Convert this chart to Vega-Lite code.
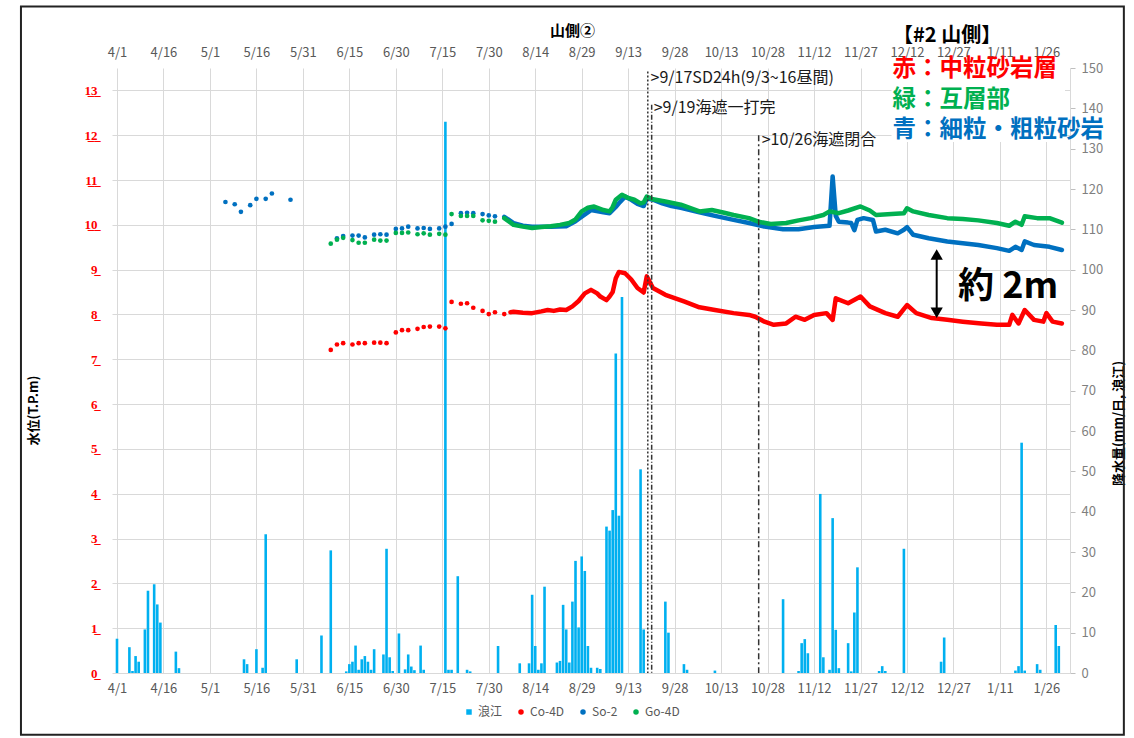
{
"$schema":"https://vega.github.io/schema/vega-lite/v6.json",
"width":958,"height":605,
"autosize":{"type":"none"},
"padding":{"left":112,"top":68,"right":64,"bottom":65},
"background":"#ffffff",
"config":{"font":"Noto Sans CJK JP","view":{"stroke":null}},
"datasets":{
"rain":[
{"d":"2023/04/01","v":8.5,"s":"浪江"},{"d":"2023/04/05","v":6.4,"s":"浪江"},{"d":"2023/04/06","v":0.5,"s":"浪江"},{"d":"2023/04/07","v":4.2,"s":"浪江"},{"d":"2023/04/08","v":2.8,"s":"浪江"},{"d":"2023/04/10","v":10.8,"s":"浪江"},{"d":"2023/04/11","v":20.4,"s":"浪江"},{"d":"2023/04/13","v":22.0,"s":"浪江"},{"d":"2023/04/14","v":17.0,"s":"浪江"},{"d":"2023/04/15","v":12.5,"s":"浪江"},{"d":"2023/04/20","v":5.3,"s":"浪江"},{"d":"2023/04/21","v":1.2,"s":"浪江"},
{"d":"2023/05/12","v":3.4,"s":"浪江"},{"d":"2023/05/13","v":2.2,"s":"浪江"},{"d":"2023/05/16","v":5.9,"s":"浪江"},{"d":"2023/05/18","v":1.3,"s":"浪江"},{"d":"2023/05/19","v":34.4,"s":"浪江"},{"d":"2023/05/29","v":3.4,"s":"浪江"},
{"d":"2023/06/06","v":9.3,"s":"浪江"},{"d":"2023/06/09","v":30.4,"s":"浪江"},{"d":"2023/06/14","v":0.4,"s":"浪江"},{"d":"2023/06/15","v":2.2,"s":"浪江"},{"d":"2023/06/16","v":2.8,"s":"浪江"},{"d":"2023/06/17","v":6.8,"s":"浪江"},{"d":"2023/06/18","v":0.8,"s":"浪江"},{"d":"2023/06/19","v":3.4,"s":"浪江"},{"d":"2023/06/20","v":4.2,"s":"浪江"},{"d":"2023/06/21","v":2.8,"s":"浪江"},{"d":"2023/06/22","v":0.8,"s":"浪江"},{"d":"2023/06/23","v":5.9,"s":"浪江"},{"d":"2023/06/26","v":4.6,"s":"浪江"},{"d":"2023/06/27","v":30.8,"s":"浪江"},{"d":"2023/06/28","v":3.9,"s":"浪江"},{"d":"2023/06/29","v":0.5,"s":"浪江"},
{"d":"2023/07/01","v":9.8,"s":"浪江"},{"d":"2023/07/03","v":0.9,"s":"浪江"},{"d":"2023/07/04","v":4.6,"s":"浪江"},{"d":"2023/07/05","v":1.6,"s":"浪江"},{"d":"2023/07/06","v":0.7,"s":"浪江"},{"d":"2023/07/08","v":6.8,"s":"浪江"},{"d":"2023/07/09","v":0.8,"s":"浪江"},{"d":"2023/07/16","v":136.7,"s":"浪江"},{"d":"2023/07/17","v":0.8,"s":"浪江"},{"d":"2023/07/18","v":0.8,"s":"浪江"},{"d":"2023/07/20","v":24.0,"s":"浪江"},{"d":"2023/07/23","v":0.8,"s":"浪江"},{"d":"2023/07/24","v":0.4,"s":"浪江"},
{"d":"2023/08/02","v":6.7,"s":"浪江"},{"d":"2023/08/09","v":2.4,"s":"浪江"},{"d":"2023/08/12","v":2.4,"s":"浪江"},{"d":"2023/08/13","v":19.4,"s":"浪江"},{"d":"2023/08/14","v":6.7,"s":"浪江"},{"d":"2023/08/15","v":0.8,"s":"浪江"},{"d":"2023/08/16","v":2.4,"s":"浪江"},{"d":"2023/08/17","v":21.4,"s":"浪江"},{"d":"2023/08/21","v":2.6,"s":"浪江"},{"d":"2023/08/22","v":3.0,"s":"浪江"},{"d":"2023/08/23","v":16.9,"s":"浪江"},{"d":"2023/08/24","v":10.8,"s":"浪江"},{"d":"2023/08/25","v":2.6,"s":"浪江"},{"d":"2023/08/26","v":17.7,"s":"浪江"},{"d":"2023/08/27","v":27.8,"s":"浪江"},{"d":"2023/08/28","v":11.3,"s":"浪江"},{"d":"2023/08/29","v":28.9,"s":"浪江"},{"d":"2023/08/30","v":25.3,"s":"浪江"},{"d":"2023/08/31","v":6.7,"s":"浪江"},
{"d":"2023/09/01","v":1.3,"s":"浪江"},{"d":"2023/09/03","v":1.3,"s":"浪江"},{"d":"2023/09/04","v":1.0,"s":"浪江"},{"d":"2023/09/06","v":36.3,"s":"浪江"},{"d":"2023/09/07","v":35.3,"s":"浪江"},{"d":"2023/09/08","v":40.4,"s":"浪江"},{"d":"2023/09/09","v":79.2,"s":"浪江"},{"d":"2023/09/10","v":39.0,"s":"浪江"},{"d":"2023/09/11","v":93.2,"s":"浪江"},{"d":"2023/09/17","v":50.5,"s":"浪江"},{"d":"2023/09/18","v":10.8,"s":"浪江"},{"d":"2023/09/25","v":17.7,"s":"浪江"},{"d":"2023/09/26","v":10.0,"s":"浪江"},
{"d":"2023/10/01","v":2.2,"s":"浪江"},{"d":"2023/10/02","v":0.8,"s":"浪江"},{"d":"2023/10/11","v":0.6,"s":"浪江"},
{"d":"2023/11/02","v":18.3,"s":"浪江"},{"d":"2023/11/07","v":0.5,"s":"浪江"},{"d":"2023/11/08","v":7.4,"s":"浪江"},{"d":"2023/11/09","v":8.4,"s":"浪江"},{"d":"2023/11/10","v":4.9,"s":"浪江"},{"d":"2023/11/14","v":44.4,"s":"浪江"},{"d":"2023/11/15","v":3.9,"s":"浪江"},{"d":"2023/11/17","v":0.8,"s":"浪江"},{"d":"2023/11/18","v":38.4,"s":"浪江"},{"d":"2023/11/19","v":10.7,"s":"浪江"},{"d":"2023/11/20","v":1.2,"s":"浪江"},{"d":"2023/11/23","v":7.4,"s":"浪江"},{"d":"2023/11/24","v":0.4,"s":"浪江"},{"d":"2023/11/25","v":15.0,"s":"浪江"},{"d":"2023/11/26","v":26.2,"s":"浪江"},
{"d":"2023/12/03","v":0.5,"s":"浪江"},{"d":"2023/12/04","v":1.7,"s":"浪江"},{"d":"2023/12/05","v":0.5,"s":"浪江"},{"d":"2023/12/11","v":30.8,"s":"浪江"},{"d":"2023/12/23","v":2.8,"s":"浪江"},{"d":"2023/12/24","v":8.8,"s":"浪江"},
{"d":"2024/01/16","v":0.6,"s":"浪江"},{"d":"2024/01/17","v":1.7,"s":"浪江"},{"d":"2024/01/18","v":57.1,"s":"浪江"},{"d":"2024/01/19","v":0.6,"s":"浪江"},{"d":"2024/01/23","v":2.2,"s":"浪江"},{"d":"2024/01/24","v":0.8,"s":"浪江"},{"d":"2024/01/29","v":11.9,"s":"浪江"},{"d":"2024/01/30","v":6.7,"s":"浪江"}
],
"pts":[
{"s":"So-2","d":"2023/05/06","v":10.51},{"s":"So-2","d":"2023/05/09","v":10.46},{"s":"So-2","d":"2023/05/11","v":10.29},{"s":"So-2","d":"2023/05/14","v":10.44},{"s":"So-2","d":"2023/05/16","v":10.58},{"s":"So-2","d":"2023/05/19","v":10.58},{"s":"So-2","d":"2023/05/21","v":10.70},{"s":"So-2","d":"2023/05/27","v":10.56},
{"s":"So-2","d":"2023/06/11","v":9.70},{"s":"So-2","d":"2023/06/13","v":9.75},{"s":"So-2","d":"2023/06/16","v":9.76},{"s":"So-2","d":"2023/06/18","v":9.76},{"s":"So-2","d":"2023/06/20","v":9.72},{"s":"So-2","d":"2023/06/23","v":9.78},{"s":"So-2","d":"2023/06/25","v":9.79},{"s":"So-2","d":"2023/06/27","v":9.78},{"s":"So-2","d":"2023/06/30","v":9.91},{"s":"So-2","d":"2023/07/02","v":9.92},{"s":"So-2","d":"2023/07/04","v":9.96},{"s":"So-2","d":"2023/07/07","v":9.92},{"s":"So-2","d":"2023/07/09","v":9.93},{"s":"So-2","d":"2023/07/11","v":9.91},{"s":"So-2","d":"2023/07/14","v":9.92},{"s":"So-2","d":"2023/07/16","v":9.96},{"s":"So-2","d":"2023/07/18","v":10.02},{"s":"So-2","d":"2023/07/21","v":10.26},{"s":"So-2","d":"2023/07/23","v":10.27},{"s":"So-2","d":"2023/07/25","v":10.26},{"s":"So-2","d":"2023/07/28","v":10.24},{"s":"So-2","d":"2023/07/30","v":10.21},{"s":"So-2","d":"2023/08/01","v":10.19},
{"s":"Go-4D","d":"2023/06/09","v":9.58},{"s":"Go-4D","d":"2023/06/11","v":9.67},{"s":"Go-4D","d":"2023/06/13","v":9.71},{"s":"Go-4D","d":"2023/06/16","v":9.66},{"s":"Go-4D","d":"2023/06/18","v":9.60},{"s":"Go-4D","d":"2023/06/20","v":9.60},{"s":"Go-4D","d":"2023/06/23","v":9.67},{"s":"Go-4D","d":"2023/06/25","v":9.65},{"s":"Go-4D","d":"2023/06/27","v":9.65},{"s":"Go-4D","d":"2023/06/30","v":9.82},{"s":"Go-4D","d":"2023/07/02","v":9.82},{"s":"Go-4D","d":"2023/07/04","v":9.83},{"s":"Go-4D","d":"2023/07/07","v":9.79},{"s":"Go-4D","d":"2023/07/09","v":9.81},{"s":"Go-4D","d":"2023/07/11","v":9.78},{"s":"Go-4D","d":"2023/07/14","v":9.80},{"s":"Go-4D","d":"2023/07/16","v":9.78},{"s":"Go-4D","d":"2023/07/18","v":10.24},{"s":"Go-4D","d":"2023/07/21","v":10.20},{"s":"Go-4D","d":"2023/07/23","v":10.20},{"s":"Go-4D","d":"2023/07/25","v":10.20},{"s":"Go-4D","d":"2023/07/28","v":10.10},{"s":"Go-4D","d":"2023/07/30","v":10.09},{"s":"Go-4D","d":"2023/08/01","v":10.07},
{"s":"Co-4D","d":"2023/06/09","v":7.21},{"s":"Co-4D","d":"2023/06/11","v":7.33},{"s":"Co-4D","d":"2023/06/13","v":7.36},{"s":"Co-4D","d":"2023/06/16","v":7.33},{"s":"Co-4D","d":"2023/06/18","v":7.36},{"s":"Co-4D","d":"2023/06/20","v":7.36},{"s":"Co-4D","d":"2023/06/23","v":7.37},{"s":"Co-4D","d":"2023/06/25","v":7.37},{"s":"Co-4D","d":"2023/06/27","v":7.36},{"s":"Co-4D","d":"2023/06/30","v":7.60},{"s":"Co-4D","d":"2023/07/02","v":7.65},{"s":"Co-4D","d":"2023/07/04","v":7.65},{"s":"Co-4D","d":"2023/07/07","v":7.68},{"s":"Co-4D","d":"2023/07/09","v":7.72},{"s":"Co-4D","d":"2023/07/11","v":7.73},{"s":"Co-4D","d":"2023/07/14","v":7.73},{"s":"Co-4D","d":"2023/07/16","v":7.69},{"s":"Co-4D","d":"2023/07/18","v":8.28},{"s":"Co-4D","d":"2023/07/21","v":8.24},{"s":"Co-4D","d":"2023/07/23","v":8.25},{"s":"Co-4D","d":"2023/07/25","v":8.15},{"s":"Co-4D","d":"2023/07/28","v":8.08},{"s":"Co-4D","d":"2023/07/30","v":8.01},{"s":"Co-4D","d":"2023/08/01","v":8.05},{"s":"Co-4D","d":"2023/08/04","v":8.01}
],
"cont":[
{"s":"Co-4D","d":"2023/08/06","v":8.05},{"s":"Co-4D","d":"2023/08/07","v":8.06},{"s":"Co-4D","d":"2023/08/10","v":8.04},{"s":"Co-4D","d":"2023/08/13","v":8.03},{"s":"Co-4D","d":"2023/08/16","v":8.07},{"s":"Co-4D","d":"2023/08/18","v":8.10},{"s":"Co-4D","d":"2023/08/20","v":8.08},{"s":"Co-4D","d":"2023/08/22","v":8.11},{"s":"Co-4D","d":"2023/08/24","v":8.10},{"s":"Co-4D","d":"2023/08/26","v":8.18},{"s":"Co-4D","d":"2023/08/28","v":8.30},{"s":"Co-4D","d":"2023/08/30","v":8.47},{"s":"Co-4D","d":"2023/09/01","v":8.55},{"s":"Co-4D","d":"2023/09/03","v":8.47},{"s":"Co-4D","d":"2023/09/04","v":8.40},{"s":"Co-4D","d":"2023/09/06","v":8.32},{"s":"Co-4D","d":"2023/09/07","v":8.40},{"s":"Co-4D","d":"2023/09/08","v":8.50},{"s":"Co-4D","d":"2023/09/09","v":8.81},{"s":"Co-4D","d":"2023/09/10","v":8.95},{"s":"Co-4D","d":"2023/09/12","v":8.92},{"s":"Co-4D","d":"2023/09/14","v":8.78},{"s":"Co-4D","d":"2023/09/16","v":8.59},{"s":"Co-4D","d":"2023/09/18","v":8.49},{"s":"Co-4D","d":"2023/09/19","v":8.85},{"s":"Co-4D","d":"2023/09/21","v":8.59},{"s":"Co-4D","d":"2023/09/25","v":8.44},{"s":"Co-4D","d":"2023/10/01","v":8.29},{"s":"Co-4D","d":"2023/10/06","v":8.16},{"s":"Co-4D","d":"2023/10/11","v":8.10},{"s":"Co-4D","d":"2023/10/17","v":8.03},{"s":"Co-4D","d":"2023/10/22","v":7.99},{"s":"Co-4D","d":"2023/10/24","v":7.95},{"s":"Co-4D","d":"2023/10/27","v":7.84},{"s":"Co-4D","d":"2023/10/30","v":7.77},{"s":"Co-4D","d":"2023/11/03","v":7.80},{"s":"Co-4D","d":"2023/11/06","v":7.95},{"s":"Co-4D","d":"2023/11/09","v":7.88},{"s":"Co-4D","d":"2023/11/12","v":7.99},{"s":"Co-4D","d":"2023/11/16","v":8.03},{"s":"Co-4D","d":"2023/11/18","v":7.88},{"s":"Co-4D","d":"2023/11/19","v":8.36},{"s":"Co-4D","d":"2023/11/23","v":8.25},{"s":"Co-4D","d":"2023/11/27","v":8.40},{"s":"Co-4D","d":"2023/11/30","v":8.18},{"s":"Co-4D","d":"2023/12/05","v":8.03},{"s":"Co-4D","d":"2023/12/09","v":7.95},{"s":"Co-4D","d":"2023/12/12","v":8.21},{"s":"Co-4D","d":"2023/12/15","v":8.03},{"s":"Co-4D","d":"2023/12/20","v":7.92},{"s":"Co-4D","d":"2023/12/25","v":7.88},{"s":"Co-4D","d":"2023/12/30","v":7.84},{"s":"Co-4D","d":"2024/01/05","v":7.80},{"s":"Co-4D","d":"2024/01/10","v":7.77},{"s":"Co-4D","d":"2024/01/14","v":7.77},{"s":"Co-4D","d":"2024/01/15","v":7.99},{"s":"Co-4D","d":"2024/01/17","v":7.80},{"s":"Co-4D","d":"2024/01/19","v":8.10},{"s":"Co-4D","d":"2024/01/22","v":7.88},{"s":"Co-4D","d":"2024/01/25","v":7.84},{"s":"Co-4D","d":"2024/01/26","v":8.03},{"s":"Co-4D","d":"2024/01/28","v":7.84},{"s":"Co-4D","d":"2024/01/31","v":7.80},
{"s":"So-2","d":"2023/08/04","v":10.18},{"s":"So-2","d":"2023/08/07","v":10.04},{"s":"So-2","d":"2023/08/10","v":9.98},{"s":"So-2","d":"2023/08/13","v":9.96},{"s":"So-2","d":"2023/08/19","v":9.96},{"s":"So-2","d":"2023/08/24","v":9.97},{"s":"So-2","d":"2023/08/27","v":10.08},{"s":"So-2","d":"2023/08/29","v":10.18},{"s":"So-2","d":"2023/09/01","v":10.33},{"s":"So-2","d":"2023/09/05","v":10.28},{"s":"So-2","d":"2023/09/07","v":10.26},{"s":"So-2","d":"2023/09/09","v":10.40},{"s":"So-2","d":"2023/09/10","v":10.48},{"s":"So-2","d":"2023/09/12","v":10.63},{"s":"So-2","d":"2023/09/14","v":10.56},{"s":"So-2","d":"2023/09/16","v":10.47},{"s":"So-2","d":"2023/09/18","v":10.42},{"s":"So-2","d":"2023/09/19","v":10.59},{"s":"So-2","d":"2023/09/21","v":10.56},{"s":"So-2","d":"2023/09/24","v":10.48},{"s":"So-2","d":"2023/09/27","v":10.42},{"s":"So-2","d":"2023/09/30","v":10.38},{"s":"So-2","d":"2023/10/06","v":10.28},{"s":"So-2","d":"2023/10/11","v":10.20},{"s":"So-2","d":"2023/10/17","v":10.11},{"s":"So-2","d":"2023/10/22","v":10.04},{"s":"So-2","d":"2023/10/27","v":9.96},{"s":"So-2","d":"2023/11/02","v":9.90},{"s":"So-2","d":"2023/11/07","v":9.90},{"s":"So-2","d":"2023/11/12","v":9.95},{"s":"So-2","d":"2023/11/17","v":9.98},{"s":"So-2","d":"2023/11/18","v":11.08},{"s":"So-2","d":"2023/11/19","v":10.20},{"s":"So-2","d":"2023/11/20","v":10.07},{"s":"So-2","d":"2023/11/23","v":10.05},{"s":"So-2","d":"2023/11/24","v":10.04},{"s":"So-2","d":"2023/11/25","v":9.88},{"s":"So-2","d":"2023/11/26","v":10.11},{"s":"So-2","d":"2023/11/28","v":10.15},{"s":"So-2","d":"2023/12/01","v":10.11},{"s":"So-2","d":"2023/12/02","v":9.85},{"s":"So-2","d":"2023/12/05","v":9.89},{"s":"So-2","d":"2023/12/09","v":9.81},{"s":"So-2","d":"2023/12/11","v":9.89},{"s":"So-2","d":"2023/12/12","v":9.95},{"s":"So-2","d":"2023/12/14","v":9.78},{"s":"So-2","d":"2023/12/19","v":9.70},{"s":"So-2","d":"2023/12/25","v":9.63},{"s":"So-2","d":"2023/12/30","v":9.59},{"s":"So-2","d":"2024/01/04","v":9.55},{"s":"So-2","d":"2024/01/10","v":9.48},{"s":"So-2","d":"2024/01/14","v":9.42},{"s":"So-2","d":"2024/01/16","v":9.51},{"s":"So-2","d":"2024/01/18","v":9.44},{"s":"So-2","d":"2024/01/19","v":9.63},{"s":"So-2","d":"2024/01/22","v":9.55},{"s":"So-2","d":"2024/01/27","v":9.51},{"s":"So-2","d":"2024/01/31","v":9.44},
{"s":"Go-4D","d":"2023/08/04","v":10.15},{"s":"Go-4D","d":"2023/08/07","v":10.00},{"s":"Go-4D","d":"2023/08/10","v":9.96},{"s":"Go-4D","d":"2023/08/13","v":9.93},{"s":"Go-4D","d":"2023/08/16","v":9.95},{"s":"Go-4D","d":"2023/08/19","v":9.97},{"s":"Go-4D","d":"2023/08/22","v":10.00},{"s":"Go-4D","d":"2023/08/25","v":10.04},{"s":"Go-4D","d":"2023/08/27","v":10.12},{"s":"Go-4D","d":"2023/08/29","v":10.30},{"s":"Go-4D","d":"2023/08/31","v":10.38},{"s":"Go-4D","d":"2023/09/02","v":10.41},{"s":"Go-4D","d":"2023/09/05","v":10.33},{"s":"Go-4D","d":"2023/09/07","v":10.30},{"s":"Go-4D","d":"2023/09/08","v":10.40},{"s":"Go-4D","d":"2023/09/09","v":10.56},{"s":"Go-4D","d":"2023/09/11","v":10.67},{"s":"Go-4D","d":"2023/09/13","v":10.60},{"s":"Go-4D","d":"2023/09/15","v":10.56},{"s":"Go-4D","d":"2023/09/17","v":10.48},{"s":"Go-4D","d":"2023/09/18","v":10.50},{"s":"Go-4D","d":"2023/09/19","v":10.63},{"s":"Go-4D","d":"2023/09/21","v":10.57},{"s":"Go-4D","d":"2023/09/25","v":10.52},{"s":"Go-4D","d":"2023/09/30","v":10.45},{"s":"Go-4D","d":"2023/10/06","v":10.30},{"s":"Go-4D","d":"2023/10/10","v":10.33},{"s":"Go-4D","d":"2023/10/14","v":10.27},{"s":"Go-4D","d":"2023/10/17","v":10.22},{"s":"Go-4D","d":"2023/10/22","v":10.15},{"s":"Go-4D","d":"2023/10/25","v":10.07},{"s":"Go-4D","d":"2023/10/29","v":10.02},{"s":"Go-4D","d":"2023/11/03","v":10.04},{"s":"Go-4D","d":"2023/11/07","v":10.10},{"s":"Go-4D","d":"2023/11/11","v":10.15},{"s":"Go-4D","d":"2023/11/15","v":10.22},{"s":"Go-4D","d":"2023/11/17","v":10.30},{"s":"Go-4D","d":"2023/11/20","v":10.26},{"s":"Go-4D","d":"2023/11/23","v":10.32},{"s":"Go-4D","d":"2023/11/27","v":10.41},{"s":"Go-4D","d":"2023/11/30","v":10.32},{"s":"Go-4D","d":"2023/12/02","v":10.22},{"s":"Go-4D","d":"2023/12/07","v":10.24},{"s":"Go-4D","d":"2023/12/11","v":10.26},{"s":"Go-4D","d":"2023/12/12","v":10.37},{"s":"Go-4D","d":"2023/12/14","v":10.30},{"s":"Go-4D","d":"2023/12/19","v":10.22},{"s":"Go-4D","d":"2023/12/25","v":10.15},{"s":"Go-4D","d":"2023/12/30","v":10.13},{"s":"Go-4D","d":"2024/01/04","v":10.10},{"s":"Go-4D","d":"2024/01/10","v":10.04},{"s":"Go-4D","d":"2024/01/14","v":9.98},{"s":"Go-4D","d":"2024/01/16","v":10.07},{"s":"Go-4D","d":"2024/01/18","v":10.00},{"s":"Go-4D","d":"2024/01/19","v":10.19},{"s":"Go-4D","d":"2024/01/23","v":10.15},{"s":"Go-4D","d":"2024/01/27","v":10.15},{"s":"Go-4D","d":"2024/01/31","v":10.05}
]
},
"layer":[
{
"data":{"name":"rain"},
"mark":{"type":"bar","width":2.6},
"encoding":{
"x":{"field":"d","type":"temporal","scale":{"domain":[{"year":2023,"month":4,"date":1},{"year":2024,"month":2,"date":1}]},
"axis":{"orient":"bottom","title":null,"format":"%-m/%-d","labelFlush":false,"labelOverlap":false,"grid":true,"gridColor":"#d9d9d9","gridWidth":1,"ticks":false,"domain":false,"labelPadding":9,"labelFontSize":13,"labelColor":"#595959",
"values":[{"year":2023,"month":4,"date":1},{"year":2023,"month":4,"date":16},{"year":2023,"month":5,"date":1},{"year":2023,"month":5,"date":16},{"year":2023,"month":5,"date":31},{"year":2023,"month":6,"date":15},{"year":2023,"month":6,"date":30},{"year":2023,"month":7,"date":15},{"year":2023,"month":7,"date":30},{"year":2023,"month":8,"date":14},{"year":2023,"month":8,"date":29},{"year":2023,"month":9,"date":13},{"year":2023,"month":9,"date":28},{"year":2023,"month":10,"date":13},{"year":2023,"month":10,"date":28},{"year":2023,"month":11,"date":12},{"year":2023,"month":11,"date":27},{"year":2023,"month":12,"date":12},{"year":2023,"month":12,"date":27},{"year":2024,"month":1,"date":11},{"year":2024,"month":1,"date":26}]}},
"y":{"field":"v","type":"quantitative","scale":{"domain":[0,150]},
"axis":{"orient":"right","values":[0,10,20,30,40,50,60,70,80,90,100,110,120,130,140,150],"grid":false,"ticks":true,"tickColor":"#bfbfbf","tickSize":5,"domain":true,"domainColor":"#d9d9d9","labelColor":"#7f7f7f","labelFontSize":13,"labelPadding":6,"title":"降水量(mm/日, 浪江)","titleFontSize":13,"titleFontWeight":"bold","titleColor":"#000000","titleAngle":270,"titleBaseline":"top","titlePadding":10,"titleY":355}},
"color":{"field":"s","type":"nominal","scale":{"domain":["浪江","Co-4D","So-2","Go-4D"],"range":["#00B0F0","#FF0000","#0070C0","#00B050"]},
"legend":{"title":null,"orient":"none","legendX":351,"legendY":638,"direction":"horizontal","labelFontSize":12,"labelColor":"#595959","symbolSize":30,"columnPadding":12,"labelOffset":3}}
}
},
{
"layer":[
{
"data":{"name":"cont"},
"transform":[{"filter":"datum.s == 'Co-4D'"}],
"mark":{"type":"line","color":"#FF0000","strokeWidth":4.5,"strokeJoin":"round","strokeCap":"round"},
"encoding":{
"x":{"field":"d","type":"temporal","scale":{"domain":[{"year":2023,"month":4,"date":1},{"year":2024,"month":2,"date":1}]},
"axis":{"orient":"top","title":null,"format":"%-m/%-d","labelFlush":false,"labelOverlap":false,"grid":false,"ticks":false,"domain":false,"labelPadding":9,"labelFontSize":13,"labelColor":"#595959",
"values":[{"year":2023,"month":4,"date":1},{"year":2023,"month":4,"date":16},{"year":2023,"month":5,"date":1},{"year":2023,"month":5,"date":16},{"year":2023,"month":5,"date":31},{"year":2023,"month":6,"date":15},{"year":2023,"month":6,"date":30},{"year":2023,"month":7,"date":15},{"year":2023,"month":7,"date":30},{"year":2023,"month":8,"date":14},{"year":2023,"month":8,"date":29},{"year":2023,"month":9,"date":13},{"year":2023,"month":9,"date":28},{"year":2023,"month":10,"date":13},{"year":2023,"month":10,"date":28},{"year":2023,"month":11,"date":12},{"year":2023,"month":11,"date":27},{"year":2023,"month":12,"date":12},{"year":2023,"month":12,"date":27},{"year":2024,"month":1,"date":11},{"year":2024,"month":1,"date":26}]}},
"y":{"field":"v","type":"quantitative","scale":{"domain":[0,13.5]},
"axis":{"orient":"left","values":[0,1,2,3,4,5,6,7,8,9,10,11,12,13],"grid":true,"gridColor":"#d9d9d9","gridWidth":1,"ticks":false,"domain":false,"labelColor":"#FF0000","labelFontWeight":"bold","labelFontSize":13,"labelPadding":15,"labelExpr":"replace(datum.label, regexp('(\\\\d)', 'g'), '$1\u0332')","title":"水位(T.P.m)","titleFontSize":13,"titleFontWeight":"bold","titleColor":"#000000","titlePadding":44,"titleY":342}}
}
},
{
"data":{"values":[{}]},
"mark":{"type":"rect","fill":"#ffffff"},
"encoding":{
"x":{"datum":{"year":2023,"month":12,"date":7,"hours":0},"type":"temporal","scale":{"domain":[{"year":2023,"month":4,"date":1},{"year":2024,"month":2,"date":1}]}},
"x2":{"datum":{"year":2024,"month":2,"date":1}},
"y":{"datum":13.68,"type":"quantitative","scale":{"domain":[0,13.5]}},
"y2":{"datum":11.85}
}
},
{
"data":{"name":"cont"},
"transform":[{"filter":"datum.s == 'So-2'"}],
"mark":{"type":"line","color":"#0070C0","strokeWidth":4.5,"strokeJoin":"round","strokeCap":"round"},
"encoding":{
"x":{"field":"d","type":"temporal","scale":{"domain":[{"year":2023,"month":4,"date":1},{"year":2024,"month":2,"date":1}]}},
"y":{"field":"v","type":"quantitative","scale":{"domain":[0,13.5]}}
}
},
{
"data":{"name":"cont"},
"transform":[{"filter":"datum.s == 'Go-4D'"}],
"mark":{"type":"line","color":"#00B050","strokeWidth":4.5,"strokeJoin":"round","strokeCap":"round"},
"encoding":{
"x":{"field":"d","type":"temporal","scale":{"domain":[{"year":2023,"month":4,"date":1},{"year":2024,"month":2,"date":1}]}},
"y":{"field":"v","type":"quantitative","scale":{"domain":[0,13.5]}}
}
},
{
"data":{"name":"pts"},
"mark":{"type":"point","filled":true,"size":22,"opacity":1},
"encoding":{
"x":{"field":"d","type":"temporal","scale":{"domain":[{"year":2023,"month":4,"date":1},{"year":2024,"month":2,"date":1}]}},
"y":{"field":"v","type":"quantitative","scale":{"domain":[0,13.5]}},
"color":{"field":"s","type":"nominal","scale":{"domain":["浪江","Co-4D","So-2","Go-4D"],"range":["#00B0F0","#FF0000","#0070C0","#00B050"]},
"legend":{"title":null,"orient":"none","legendX":351,"legendY":638,"direction":"horizontal","labelFontSize":12,"labelColor":"#595959","symbolSize":30,"columnPadding":12,"labelOffset":3}},
"shape":{"field":"s","type":"nominal","scale":{"domain":["浪江","Co-4D","So-2","Go-4D"],"range":["square","circle","circle","circle"]},
"legend":{"title":null,"orient":"none","legendX":351,"legendY":638,"direction":"horizontal","labelFontSize":12,"labelColor":"#595959","symbolSize":30,"columnPadding":12,"labelOffset":3}}
}
},
{
"data":{"values":[{}]},
"mark":{"type":"rule","color":"#333333","strokeWidth":1.5,"strokeDash":[2,2]},
"encoding":{
"x":{"datum":{"year":2023,"month":9,"date":19,"hours":8},"type":"temporal","scale":{"domain":[{"year":2023,"month":4,"date":1},{"year":2024,"month":2,"date":1}]}},
"y":{"datum":13.42,"type":"quantitative","scale":{"domain":[0,13.5]}},
"y2":{"datum":0}
}
},
{
"data":{"values":[{}]},
"mark":{"type":"rule","color":"#333333","strokeWidth":1.5,"strokeDash":[5,2,1,2]},
"encoding":{
"x":{"datum":{"year":2023,"month":9,"date":20,"hours":14},"type":"temporal","scale":{"domain":[{"year":2023,"month":4,"date":1},{"year":2024,"month":2,"date":1}]}},
"y":{"datum":12.68,"type":"quantitative","scale":{"domain":[0,13.5]}},
"y2":{"datum":0}
}
},
{
"data":{"values":[{}]},
"mark":{"type":"rule","color":"#333333","strokeWidth":1.5,"strokeDash":[6,3,2,3]},
"encoding":{
"x":{"datum":{"year":2023,"month":10,"date":25,"hours":3},"type":"temporal","scale":{"domain":[{"year":2023,"month":4,"date":1},{"year":2024,"month":2,"date":1}]}},
"y":{"datum":12.0,"type":"quantitative","scale":{"domain":[0,13.5]}},
"y2":{"datum":0}
}
},
{
"data":{"values":[{}]},
"mark":{"type":"text","text":">9/17SD24h(9/3~16昼間)","align":"left","baseline":"middle","fontSize":16,"color":"#1a1a1a","dx":2},
"encoding":{
"x":{"datum":{"year":2023,"month":9,"date":19,"hours":14},"type":"temporal","scale":{"domain":[{"year":2023,"month":4,"date":1},{"year":2024,"month":2,"date":1}]}},
"y":{"datum":13.28,"type":"quantitative","scale":{"domain":[0,13.5]}}
}
},
{
"data":{"values":[{}]},
"mark":{"type":"text","text":">9/19海遮一打完","align":"left","baseline":"middle","fontSize":16,"color":"#1a1a1a","dx":2},
"encoding":{
"x":{"datum":{"year":2023,"month":9,"date":20,"hours":14},"type":"temporal","scale":{"domain":[{"year":2023,"month":4,"date":1},{"year":2024,"month":2,"date":1}]}},
"y":{"datum":12.61,"type":"quantitative","scale":{"domain":[0,13.5]}}
}
},
{
"data":{"values":[{}]},
"mark":{"type":"text","text":">10/26海遮閉合","align":"left","baseline":"middle","fontSize":16,"color":"#1a1a1a","dx":3},
"encoding":{
"x":{"datum":{"year":2023,"month":10,"date":25,"hours":3},"type":"temporal","scale":{"domain":[{"year":2023,"month":4,"date":1},{"year":2024,"month":2,"date":1}]}},
"y":{"datum":11.9,"type":"quantitative","scale":{"domain":[0,13.5]}}
}
},
{
"data":{"values":[{}]},
"mark":{"type":"rule","color":"#000000","strokeWidth":2},
"encoding":{
"x":{"datum":{"year":2023,"month":12,"date":21,"hours":14},"type":"temporal","scale":{"domain":[{"year":2023,"month":4,"date":1},{"year":2024,"month":2,"date":1}]}},
"y":{"datum":9.3,"type":"quantitative","scale":{"domain":[0,13.5]}},
"y2":{"datum":8.08}
}
},
{
"data":{"values":[{}]},
"mark":{"type":"point","shape":"triangle-up","filled":true,"color":"#000000","size":150,"opacity":1},
"encoding":{
"x":{"datum":{"year":2023,"month":12,"date":21,"hours":14},"type":"temporal","scale":{"domain":[{"year":2023,"month":4,"date":1},{"year":2024,"month":2,"date":1}]}},
"y":{"datum":9.34,"type":"quantitative","scale":{"domain":[0,13.5]}}
}
},
{
"data":{"values":[{}]},
"mark":{"type":"point","shape":"triangle-down","filled":true,"color":"#000000","size":150,"opacity":1},
"encoding":{
"x":{"datum":{"year":2023,"month":12,"date":21,"hours":14},"type":"temporal","scale":{"domain":[{"year":2023,"month":4,"date":1},{"year":2024,"month":2,"date":1}]}},
"y":{"datum":8.04,"type":"quantitative","scale":{"domain":[0,13.5]}}
}
},
{
"data":{"values":[{}]},
"mark":{"type":"text","text":"約 2m","align":"left","baseline":"middle","fontSize":36,"fontWeight":"bold","color":"#000000"},
"encoding":{
"x":{"datum":{"year":2023,"month":12,"date":28,"hours":12},"type":"temporal","scale":{"domain":[{"year":2023,"month":4,"date":1},{"year":2024,"month":2,"date":1}]}},
"y":{"datum":8.62,"type":"quantitative","scale":{"domain":[0,13.5]}}
}
},
{
"data":{"values":[{}]},
"mark":{"type":"text","text":"山側②","align":"center","baseline":"middle","fontSize":15,"fontWeight":"bold","color":"#000000"},
"encoding":{
"x":{"datum":{"year":2023,"month":8,"date":26},"type":"temporal","scale":{"domain":[{"year":2023,"month":4,"date":1},{"year":2024,"month":2,"date":1}]}},
"y":{"datum":14.33,"type":"quantitative","scale":{"domain":[0,13.5]}}
}
},
{
"data":{"values":[{}]},
"mark":{"type":"text","text":"【#2 山側】","align":"left","baseline":"middle","fontSize":20,"fontWeight":"bold","color":"#000000"},
"encoding":{
"x":{"datum":{"year":2023,"month":12,"date":7,"hours":12},"type":"temporal","scale":{"domain":[{"year":2023,"month":4,"date":1},{"year":2024,"month":2,"date":1}]}},
"y":{"datum":14.22,"type":"quantitative","scale":{"domain":[0,13.5]}}
}
},
{
"data":{"values":[{}]},
"mark":{"type":"text","text":"赤：中粒砂岩層","align":"left","baseline":"middle","fontSize":23.5,"fontWeight":"bold","color":"#FF0000"},
"encoding":{
"x":{"datum":{"year":2023,"month":12,"date":7,"hours":7},"type":"temporal","scale":{"domain":[{"year":2023,"month":4,"date":1},{"year":2024,"month":2,"date":1}]}},
"y":{"datum":13.47,"type":"quantitative","scale":{"domain":[0,13.5]}}
}
},
{
"data":{"values":[{}]},
"mark":{"type":"text","text":"緑：互層部","align":"left","baseline":"middle","fontSize":23.5,"fontWeight":"bold","color":"#00B050"},
"encoding":{
"x":{"datum":{"year":2023,"month":12,"date":7,"hours":7},"type":"temporal","scale":{"domain":[{"year":2023,"month":4,"date":1},{"year":2024,"month":2,"date":1}]}},
"y":{"datum":12.79,"type":"quantitative","scale":{"domain":[0,13.5]}}
}
},
{
"data":{"values":[{}]},
"mark":{"type":"text","text":"青：細粒・粗粒砂岩","align":"left","baseline":"middle","fontSize":23.5,"fontWeight":"bold","color":"#0070C0"},
"encoding":{
"x":{"datum":{"year":2023,"month":12,"date":7,"hours":7},"type":"temporal","scale":{"domain":[{"year":2023,"month":4,"date":1},{"year":2024,"month":2,"date":1}]}},
"y":{"datum":12.12,"type":"quantitative","scale":{"domain":[0,13.5]}}
}
},
{
"data":{"values":[{}]},
"mark":{"type":"rect","fillOpacity":0,"stroke":"#222222","strokeWidth":2},
"encoding":{
"x":{"datum":{"year":2023,"month":3,"date":1},"type":"temporal","scale":{"domain":[{"year":2023,"month":4,"date":1},{"year":2024,"month":2,"date":1}]}},
"x2":{"datum":{"year":2024,"month":2,"date":20}},
"y":{"datum":14.87,"type":"quantitative","scale":{"domain":[0,13.5]}},
"y2":{"datum":-1.38}
}
}
]
}
],
"resolve":{"scale":{"y":"independent"},"axis":{"x":"independent","y":"independent"}}
}
